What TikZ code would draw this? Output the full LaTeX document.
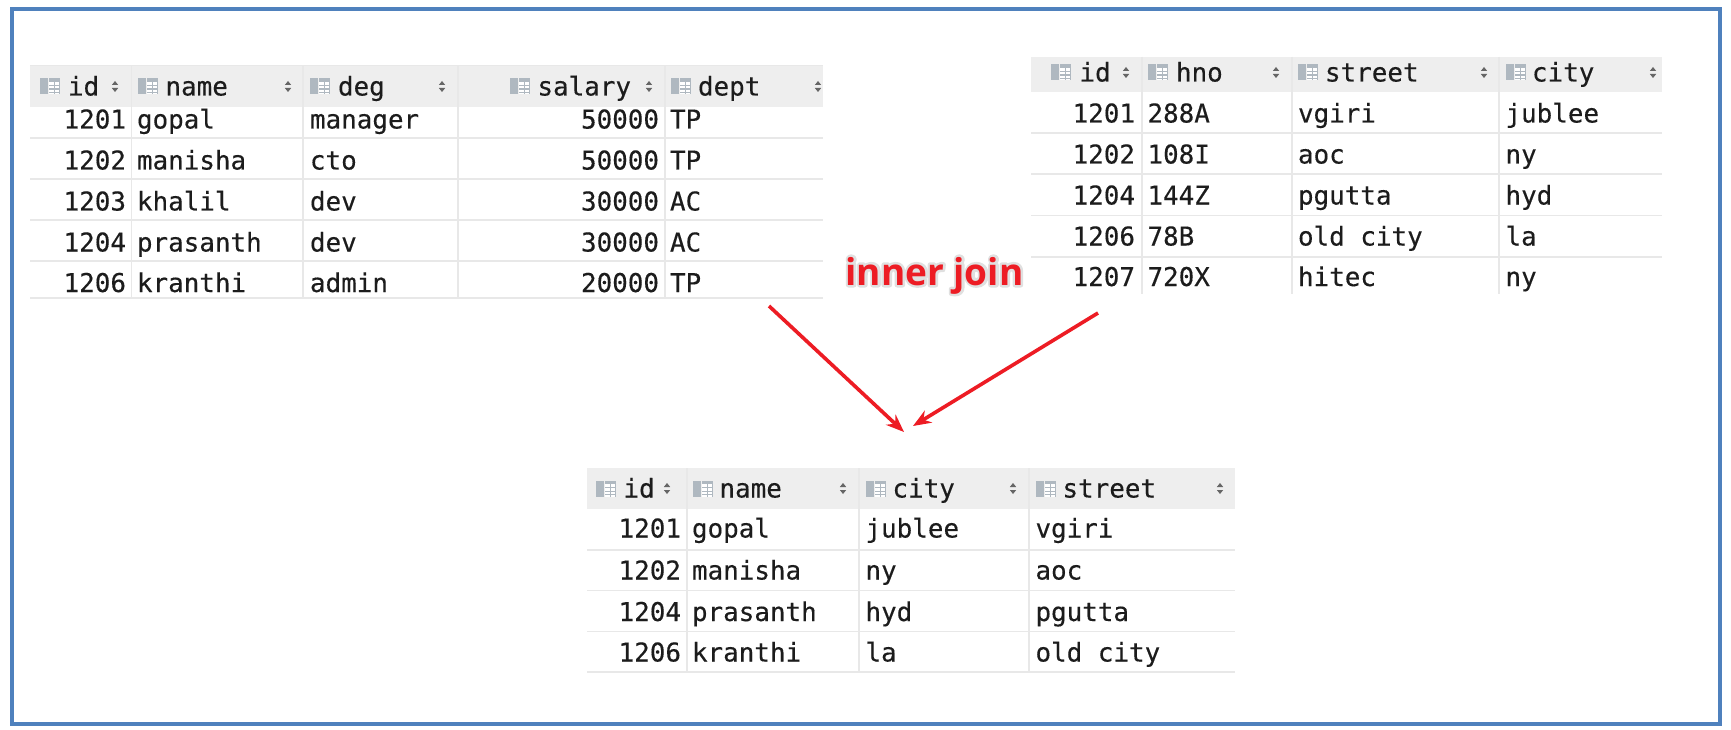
\documentclass[tikz,border=0pt]{standalone}
\usepackage{fontspec}
\setmainfont{DejaVu Sans Mono}[FakeBold=0.3]
\newfontfamily\joinfont{Open Sans}
\usetikzlibrary{arrows.meta}
\definecolor{framec}{HTML}{4F81BD}
\definecolor{headc}{HTML}{EEEEEE}
\definecolor{linec}{HTML}{E8E8E8}
\definecolor{iconc}{HTML}{AFB8C0}
\definecolor{txtc}{HTML}{1C1C1C}
\definecolor{redc}{HTML}{ED1C24}
\tikzset{
  cell/.style={font=\fontsize{25.9}{28}\selectfont,text=txtc,inner sep=0pt,outer sep=0pt},
  cl/.style={cell,anchor=base west},
  cr/.style={cell,anchor=base east},
  rule/.style={draw=linec,line width=1.3pt},
  arrowline/.style={draw=redc,line width=3.6pt,-{Stealth[length=18pt,width=14pt]},shorten >=0pt},
  frame/.style={draw=framec,line width=4pt},
  headfill/.style={fill=headc,draw=none},
  icon/.pic={
    \fill[iconc] (0,0) rectangle (8,16);
    \fill[white] (9,0) rectangle (20,16);
    \fill[iconc] (9,0) rectangle (20,3.5);
    \foreach \yy in {6.5,10,13.5}{\fill[iconc] (9,\yy) rectangle (20,\yy+1.3);}
    \fill[iconc] (14,3) rectangle (15,16);
    \fill[iconc] (19.2,0) rectangle (20,16);
  },
  sorter/.pic={
    \fill[gray!80!black] (-3.2,-1.5) -- (0,-5.5) -- (3.2,-1.5) -- cycle;
    \fill[gray!80!black] (-3.2,1.5) -- (0,5.5) -- (3.2,1.5) -- cycle;
  }
}
\newcommand{\hcol}[6]{% table, name, icon x, text x, sort x, base y
  \path (#3,#6-17) pic {icon};
  \node[cl] (#1h#2) at (#4,#6) {#2};
  \path (#5,#6-9) pic {sorter};
}
\newcommand{\outlined}[1]{\rlap{\special{pdf:code q 1 j 2 Tr 5 w 0.88 0.88 0.88 RG}#1\special{pdf:code 0 Tr Q}}#1}
\begin{document}
\begin{tikzpicture}[x=1pt,y=-1pt]
\useasboundingbox (0,0) rectangle (1731,730);
\fill[white] (0,0) rectangle (1731,730);
\draw[frame] (12,9.5) rectangle (1720,723.5);

% Table 1
\fill[headfill] (30,66) rectangle (823,107);
\draw[draw=linec,line width=1pt] (30,66) -- (823,66);
\foreach \yy in {138,179,220,261,298}{\draw[rule] (30,\yy) -- (823,\yy);}
\foreach \xx in {131.5,303,458,665}{\draw[rule] (\xx,66) -- (\xx,298);}
\hcol{ta}{id}{40}{68}{115}{95.5}
\hcol{ta}{name}{138}{165.5}{288}{95.5}
\hcol{ta}{deg}{310}{338}{442}{95.5}
\hcol{ta}{salary}{510}{537.5}{649}{95.5}
\hcol{ta}{dept}{671}{698}{818}{95.5}
\foreach \nn/\yy/\vid/\vna/\vde/\vsa/\vdp in {a/128.5/1201/gopal/manager/50000/TP,b/169.5/1202/manisha/cto/50000/TP,c/210.5/1203/khalil/dev/30000/AC,d/251.5/1204/prasanth/dev/30000/AC,e/292/1206/kranthi/admin/20000/TP}{
  \node[cr] (ta\nn id) at (126,\yy) {\vid};
  \node[cl] (ta\nn na) at (137,\yy) {\vna};
  \node[cl] (ta\nn de) at (310,\yy) {\vde};
  \node[cr] (ta\nn sa) at (659,\yy) {\vsa};
  \node[cl] (ta\nn dp) at (670,\yy) {\vdp};
}

% Table 2
\fill[headfill] (1031,57) rectangle (1662,92);
\foreach \yy in {133,174,215.5,257}{\draw[rule] (1031,\yy) -- (1662,\yy);}
\foreach \xx in {1142,1292,1499}{\draw[rule] (\xx,57) -- (\xx,294);}
\hcol{tb}{id}{1051}{1079.5}{1126}{81.5}
\hcol{tb}{hno}{1148}{1176}{1276}{81.5}
\hcol{tb}{street}{1298}{1325}{1484}{81.5}
\hcol{tb}{city}{1506}{1532}{1653}{81.5}
\foreach \nn/\yy/\vid/\vhn/\vst/\vci in {a/122.5/1201/288A/vgiri/jublee,b/163.5/1202/108I/aoc/ny,c/204.5/1204/144Z/pgutta/hyd,d/245.5/1206/78B/old city/la,e/286/1207/720X/hitec/ny}{
  \node[cr] (tb\nn id) at (1135,\yy) {\vid};
  \node[cl] (tb\nn hn) at (1147.5,\yy) {\vhn};
  \node[cl] (tb\nn st) at (1298,\yy) {\vst};
  \node[cl] (tb\nn ci) at (1505.5,\yy) {\vci};
}

% Table 3
\fill[headfill] (587,468) rectangle (1235,509);
\foreach \yy in {550,590.5,631.5,672}{\draw[rule] (587,\yy) -- (1235,\yy);}
\foreach \xx in {687,859,1029}{\draw[rule] (\xx,468) -- (\xx,672);}
\hcol{tc}{id}{596}{623.5}{667}{497.5}
\hcol{tc}{name}{693}{719.5}{843}{497.5}
\hcol{tc}{city}{866}{892.5}{1013}{497.5}
\hcol{tc}{street}{1036}{1062.5}{1220}{497.5}
\foreach \nn/\yy/\vid/\vna/\vci/\vst in {a/537.5/1201/gopal/jublee/vgiri,b/579.5/1202/manisha/ny/aoc,c/621/1204/prasanth/hyd/pgutta,d/661.5/1206/kranthi/la/old city}{
  \node[cr] (tc\nn id) at (681,\yy) {\vid};
  \node[cl] (tc\nn na) at (692,\yy) {\vna};
  \node[cl] (tc\nn ci) at (865.5,\yy) {\vci};
  \node[cl] (tc\nn st) at (1035.5,\yy) {\vst};
}

% Label and arrows
\node[inner sep=0pt,anchor=base,text=redc] (join) at (934.5,285) {\joinfont\bfseries\fontsize{37}{40}\selectfont\outlined{inner join}};
\coordinate (s1) at (769,306);
\coordinate (e1) at (904,432);
\coordinate (s2) at (1098,313);
\coordinate (e2) at (913,426);
\draw[arrowline] (s1) -- (e1);
\draw[arrowline] (s2) -- (e2);
\end{tikzpicture}
\end{document}
